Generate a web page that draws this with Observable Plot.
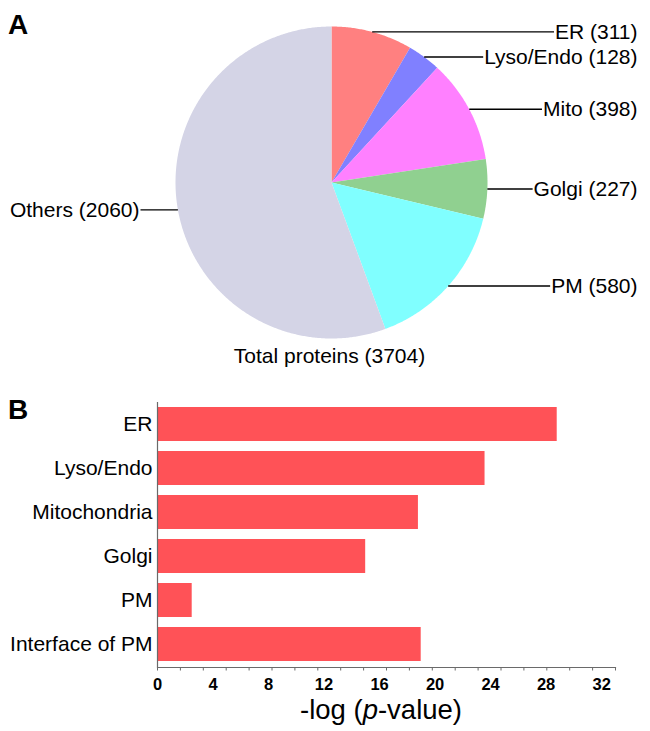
<!DOCTYPE html>
<html>
<head>
<meta charset="utf-8">
<script src="https://cdn.jsdelivr.net/npm/d3@7"></script>
<script src="https://cdn.jsdelivr.net/npm/@observablehq/plot@0.6"></script>
<style>
  html, body { margin: 0; padding: 0; background: #fff; }
  #wrap { position: relative; width: 650px; height: 731px; font-family: "Liberation Sans", Arial, sans-serif; color: #000; }
  .abs { position: absolute; }
  .panel { font-size: 28px; font-weight: bold; line-height: 28px; }
  #xlabel { font-size: 27.5px; line-height: 28px; text-align: center; width: 300px; }
</style>
</head>
<body>
<div id="wrap">
  <div id="pie" class="abs" style="left:0;top:0"></div>
  <div id="bar" class="abs" style="left:0;top:375px"></div>
  <div class="abs panel" style="left:8px;top:11px">A</div>
  <div class="abs panel" style="left:8px;top:396px">B</div>
  <div id="xlabel" class="abs" style="left:231px;top:696px">-log (<i>p</i>-value)</div>
</div>
<script>
// ---- Data (panel A) ----
const pieNames = ["ER", "Lyso/Endo", "Mito", "Golgi", "PM", "Others"];
const pieValues = [311, 128, 398, 227, 580, 2060];
const pieColors = ["#FF8080", "#8080FF", "#FF80FF", "#90D090", "#80FFFF", "#D4D4E6"];
const pieTotalLabel = "Total proteins";

// ---- Data (panel B) ----
const barCategories = ["ER", "Lyso/Endo", "Mitochondria", "Golgi", "PM", "Interface of PM"];
const barValues = [28.8, 23.6, 18.8, 15.0, 2.5, 19.0];
const xTickLabels = [0, 4, 8, 12, 16, 20, 24, 28, 32];

const FONT = "'Liberation Sans', Arial, sans-serif";

// ---------- Panel A: pie ----------
const pieData = pieNames.map((name, i) => ({name, value: pieValues[i]}));
const total = d3.sum(pieValues);
const arcs = d3.pie().sort(null).value(d => d.value)(pieData);

const pts = [];
for (const a of arcs) {
  const name = a.data.name;
  pts.push({name, x: 0, y: 0});
  const n = Math.max(2, Math.ceil((a.endAngle - a.startAngle) / 0.008));
  for (let k = 0; k <= n; ++k) {
    const t = a.startAngle + (a.endAngle - a.startAngle) * k / n;
    pts.push({name, x: Math.sin(t), y: Math.cos(t)});
  }
  pts.push({name, x: 0, y: 0});
}

// layout of the pie in pixels
const cx = 331, cy = 182, R = 156;
const W1 = 650, H1 = 375;
const labelFont = 21;
const ctx = document.createElement("canvas").getContext("2d");
ctx.font = `${labelFont}px ${FONT}`;
const rightEdgePx = 637, leftEdgePx = 139;

const labels = arcs.map(a => {
  const mid = (a.startAngle + a.endAngle) / 2;
  const y = Math.cos(mid);
  const text = `${a.data.name} (${a.data.value})`;
  const w = ctx.measureText(text).width;
  const right = Math.sin(mid) >= 0;
  const edge = Math.sqrt(Math.max(0, 1 - y * y)) * (right ? 1 : -1);
  if (right) {
    const tx = (rightEdgePx - cx) / R;
    return {text, y, tx, x1: edge, x2: tx - (w + 1) / R};
  } else {
    const tx = (leftEdgePx - cx) / R;
    return {text, y, tx, x1: tx + 1 / R, x2: edge};
  }
});

const pie = Plot.plot({
  width: W1, height: H1,
  margin: 0,
  axis: null,
  x: {domain: [-1, 1], range: [cx - R, cx + R]},
  y: {domain: [-1, 1], range: [cy + R, cy - R]},
  color: {domain: pieNames, range: pieColors},
  style: {fontFamily: FONT, fontSize: `${labelFont}px`, color: "#000", background: "transparent"},
  marks: [
    Plot.line(pts, {x: "x", y: "y", z: "name", fill: "name", stroke: null, curve: "linear"}),
    Plot.link(labels, {x1: "x1", x2: "x2", y1: "y", y2: "y", stroke: "#000", strokeWidth: 1.4}),
    Plot.text(labels, {x: "tx", y: "y", text: "text", textAnchor: "end", fontSize: labelFont, fill: "#000"}),
    Plot.text([{x: 0, y: -1, t: `${pieTotalLabel} (${total})`}], {x: "x", y: "y", text: "t", dy: 18, dx: -2, fontSize: 21, fill: "#000"})
  ]
});
document.getElementById("pie").appendChild(pie);

// ---------- Panel B: bars ----------
const barData = barCategories.map((category, i) => ({category, value: barValues[i]}));
const bar = Plot.plot({
  width: 650, height: 356,
  marginTop: 27, marginBottom: 64, marginLeft: 157, marginRight: 35,
  x: {domain: [0, 33]},
  y: {domain: barCategories, paddingInner: 0.22, paddingOuter: 0.11},
  style: {fontFamily: FONT, color: "#000", background: "transparent"},
  marks: [
    Plot.barX(barData, {x: "value", y: "category", fill: "#FF5257"}),
    Plot.ruleX([0], {stroke: "#6a6a6a", strokeWidth: 1.2}),
    Plot.frame({anchor: "bottom", stroke: "#6a6a6a", strokeWidth: 1.2}),
    Plot.axisY({tickSize: 0, tickPadding: 5, fontSize: 21, label: null, fill: "#000"}),
    Plot.axisX({ticks: d3.range(0, 33.001, 1.65), tickSize: 3.5, tickFormat: () => "", label: null, stroke: "#6a6a6a"}),
    Plot.axisX({ticks: xTickLabels, tickSize: 0, tickPadding: 11, fontSize: 16.5, fontWeight: "bold", label: null, fill: "#000"})
  ]
});
document.getElementById("bar").appendChild(bar);
</script>
</body>
</html>
